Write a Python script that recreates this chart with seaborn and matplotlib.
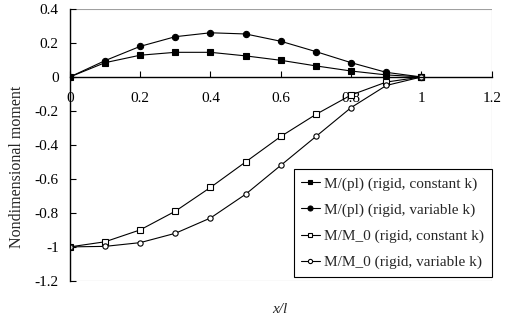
import numpy as np
import pandas as pd
import matplotlib
matplotlib.use("Agg")
import matplotlib.pyplot as plt
from matplotlib.patches import Rectangle
import seaborn as sns

# ── Data ────────────────────────────────────────────────────────────────────
x_pos = [0.0, 0.1, 0.2, 0.3, 0.4, 0.5, 0.6, 0.7, 0.8, 0.9, 1.0]
m_pl_const = [0.0, 0.084, 0.128, 0.145, 0.145, 0.124, 0.098, 0.065, 0.035, 0.012, 0.0]
m_pl_var = [0.0, 0.096, 0.18, 0.237, 0.26, 0.253, 0.21, 0.149, 0.084, 0.027, 0.0]
m_m0_const = [-1.0, -0.97, -0.90, -0.79, -0.65, -0.50, -0.35, -0.22, -0.106, -0.03, 0.0]
m_m0_var = [-1.0, -0.997, -0.975, -0.92, -0.83, -0.69, -0.52, -0.35, -0.18, -0.05, 0.0]

labels = ["M/(pl) (rigid, constant k)", "M/(pl) (rigid, variable k)",
          "M/M_0 (rigid, constant k)", "M/M_0 (rigid, variable k)"]
series = [m_pl_const, m_pl_var, m_m0_const, m_m0_var]

df = pd.concat([pd.DataFrame({"x": x_pos, "y": s, "series": lab})
                for lab, s in zip(labels, series)], ignore_index=True)

# ── Style ───────────────────────────────────────────────────────────────────
sns.set_style("white")
plt.rcParams["font.family"] = ["Liberation Serif", "DejaVu Serif"]

fig = plt.figure(figsize=(5.06, 3.21), dpi=100)
ax = fig.add_axes([0.138, 0.125, 0.834, 0.847])

markers = {labels[0]: "s", labels[1]: "o", labels[2]: "s", labels[3]: "o"}
faces = ["black", "black", "white", "white"]
sizes = [4.0, 4.5, 3.8, 3.8]

for lab, fc, ms in zip(labels, faces, sizes):
    sns.lineplot(data=df[df["series"] == lab], x="x", y="y", ax=ax,
                 color="black", linewidth=0.8, marker=markers[lab],
                 markersize=ms, markerfacecolor=fc, markeredgecolor="black",
                 markeredgewidth=0.8, label=lab)

ax.set_xlim(0, 1.2)
ax.set_ylim(-1.2, 0.4)
ax.set_xticks([0, 0.2, 0.4, 0.6, 0.8, 1.0, 1.2])
ax.set_xticklabels(["0", "0.2", "0.4", "0.6", "0.8", "1", "1.2"])
ax.set_yticks([-1.2, -1.0, -0.8, -0.6, -0.4, -0.2, 0, 0.2, 0.4])
ax.set_yticklabels(["-1.2", "-1", "-0.8", "-0.6", "-0.4", "-0.2", "0", "0.2", "0.4"])

# x axis crosses at zero, grey plot-area frame
for s in ["top", "right"]:
    ax.spines[s].set_visible(False)
ax.spines["bottom"].set_position(("data", 0))
ax.spines["bottom"].set_color("black")
ax.spines["bottom"].set_linewidth(1.0)
ax.spines["left"].set_color("black")
ax.spines["left"].set_linewidth(1.0)
ax.add_patch(Rectangle((0, 0), 1, 1, transform=ax.transAxes, fill=False,
                       edgecolor="#a0a0a0", linewidth=0.8, zorder=0))

ax.tick_params(axis="both", direction="in", length=4, width=0.8, colors="black",
               labelsize=11, bottom=True, left=True)
ax.tick_params(axis="x", pad=11)
ax.tick_params(axis="y", pad=8)

ax.set_xlabel("")
ax.set_ylabel("Nondimensional moment", fontsize=11.5)
ax.yaxis.set_label_coords(-0.106, 0.42)
fig.text(0.553, 0.035, "x/l", fontsize=11, style="italic", ha="center", va="center")

leg = ax.legend(loc="lower right", bbox_to_anchor=(1.0, 0.015), fontsize=11,
                frameon=True, fancybox=False, edgecolor="black", framealpha=1,
                handlelength=1.2, handletextpad=0.3, labelspacing=0.8,
                borderpad=0.5, borderaxespad=0, markerscale=0.8)
leg.get_frame().set_linewidth(0.8)

fig.savefig("out.png", dpi=100)
